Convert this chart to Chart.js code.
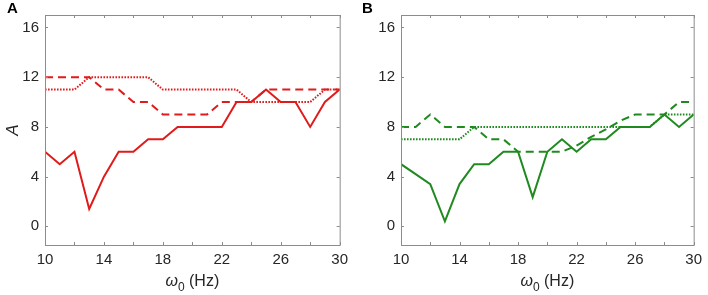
<!DOCTYPE html>
<html>
<head>
<meta charset="utf-8">
<script src="https://cdn.jsdelivr.net/npm/chart.js@4.4.1/dist/chart.umd.min.js"></script>
<style>
  html, body { margin: 0; padding: 0; background: #fff; }
  #wrap { position: relative; width: 708px; height: 295px; }
  canvas { position: absolute; top: 0; }
  #chartA { left: 0; }
  #chartB { left: 354px; }
</style>
</head>
<body>
<div id="wrap">
  <canvas id="chartA" width="354" height="295"></canvas>
  <canvas id="chartB" width="354" height="295"></canvas>
</div>
<script>
// omega_0 (Hz)
const omega = [10, 11, 12, 13, 14, 15, 16, 17, 18, 19, 20, 21, 22, 23, 24, 25, 26, 27, 28, 29, 30];

// Panel A (red)
const solidA  = [6, 5, 6, 1.4, 4, 6, 6, 7, 7, 8, 8, 8, 8, 10, 10, 11, 10, 10, 8, 10, 11];
const dashedA = [12, 12, 12, 12, 11, 11, 10, 10, 9, 9, 9, 9, 10, 10, 10, 11, 11, 11, 11, 11, 11];
const dottedA = [11, 11, 11, 12, 12, 12, 12, 12, 11, 11, 11, 11, 11, 11, 10, 10, 10, 10, 10, 11, 11];

// Panel B (green)
const solidB  = [5, 4.2, 3.4, 0.4, 3.4, 5, 5, 6, 6, 2.35, 6, 7, 6, 7, 7, 8, 8, 8, 9, 8, 9];
const dashedB = [8, 8, 9, 8, 8, 8, 7, 7, 6, 6, 6, 6, 6.5, 7.2, 7.8, 8.5, 9, 9, 9, 10, 10];
const dottedB = [7, 7, 7, 7, 7, 8, 8, 8, 8, 8, 8, 8, 8, 8, 8, 8, 8, 8, 9, 9, 9];

// axes
const xTickMarks = [10, 12, 14, 16, 18, 20, 22, 24, 26, 28, 30];
const xTickLabels = [10, 14, 18, 22, 26, 30];
const yTickLabels = [0, 4, 8, 12, 16];

const RED = '#e01b1b';
const GREEN = '#1f8a1f';
const FONT = '"Liberation Sans", Arial, sans-serif';

const pts = vals => omega.map((w, i) => ({ x: w, y: vals[i] }));

// cadre gris + graduations vers l'intérieur + titres
const matlabAxes = {
    id: 'matlabAxes',
    afterDraw(chart, args, opts) {
        const { ctx, chartArea: a, scales: { x, y } } = chart;
        ctx.save();
        ctx.strokeStyle = '#8c8c8c';
        ctx.lineWidth = 1;
        ctx.strokeRect(a.left + 0.5, a.top + 0.5, a.right - a.left, a.bottom - a.top);
        ctx.beginPath();
        xTickMarks.forEach(v => {
            const px = Math.round(x.getPixelForValue(v)) + 0.5;
            ctx.moveTo(px, a.bottom); ctx.lineTo(px, a.bottom - 3);
            ctx.moveTo(px, a.top); ctx.lineTo(px, a.top + 3);
        });
        yTickLabels.forEach(v => {
            const py = Math.round(y.getPixelForValue(v)) + 0.5;
            ctx.moveTo(a.left, py); ctx.lineTo(a.left + 3, py);
            ctx.moveTo(a.right, py); ctx.lineTo(a.right - 3, py);
        });
        ctx.stroke();

        // titre axe x : ω0 (Hz)
        ctx.fillStyle = '#262626';
        ctx.textBaseline = 'alphabetic';
        const cx = (a.left + a.right) / 2;
        const base = 286;
        ctx.font = 'italic 16px ' + FONT;
        const wOm = ctx.measureText('\u03c9').width;
        ctx.font = '12px ' + FONT;
        const wSub = ctx.measureText('0').width;
        ctx.font = '16px ' + FONT;
        const wHz = ctx.measureText(' (Hz)').width;
        let sx = cx - (wOm + wSub + wHz) / 2;
        ctx.textAlign = 'left';
        ctx.font = 'italic 16px ' + FONT;
        ctx.fillText('\u03c9', sx, base);
        sx += wOm;
        ctx.font = '12px ' + FONT;
        ctx.fillText('0', sx, base + 5);
        sx += wSub;
        ctx.font = '16px ' + FONT;
        ctx.fillText(' (Hz)', sx, base);

        // titre axe y
        if (opts.yTitle) {
            ctx.save();
            ctx.translate(13, (a.top + a.bottom) / 2);
            ctx.rotate(-Math.PI / 2);
            ctx.textAlign = 'center';
            ctx.textBaseline = 'middle';
            ctx.font = 'italic 17px ' + FONT;
            ctx.fillText(opts.yTitle, 0, 0);
            ctx.restore();
        }

        // lettre du panneau
        ctx.fillStyle = '#000';
        ctx.textAlign = 'left';
        ctx.textBaseline = 'top';
        ctx.font = 'bold 15px ' + FONT;
        ctx.fillText(opts.letter, opts.letterX, 1);
        ctx.restore();
    },
};

function makePanel(canvasId, color, solid, dashed, dotted, cfg) {
    const line = (label, vals, dash) => ({
        label,
        data: pts(vals),
        borderColor: color,
        backgroundColor: color,
        borderWidth: 2,
        borderDash: dash,
        pointRadius: 0,
        tension: 0,
        fill: false,
    });
    return new Chart(document.getElementById(canvasId), {
        type: 'line',
        data: {
            datasets: [
                line('dotted', dotted, [1.6, 1.4]),
                line('dashed', dashed, [8, 5]),
                line('solid', solid, []),
            ],
        },
        options: {
            responsive: false,
            devicePixelRatio: 1,
            animation: false,
            layout: { padding: { top: 13, right: cfg.right, left: 0, bottom: 0 } },
            plugins: {
                legend: { display: false },
                tooltip: { enabled: false },
                matlabAxes: cfg,
            },
            scales: {
                x: {
                    type: 'linear',
                    min: 10,
                    max: 30,
                    grid: { display: false, drawTicks: false, tickLength: 0 },
                    border: { display: false },
                    afterBuildTicks: s => { s.ticks = xTickMarks.map(v => ({ value: v })); },
                    afterFit: s => { s.height = 50; },
                    ticks: {
                        autoSkip: false,
                        maxRotation: 0,
                        padding: 6,
                        color: '#262626',
                        font: { family: FONT, size: 15 },
                        callback: v => (xTickLabels.includes(v) ? String(v) : ''),
                    },
                },
                y: {
                    min: -1.5,
                    max: 17,
                    grid: { display: false, drawTicks: false, tickLength: 0 },
                    border: { display: false },
                    afterBuildTicks: s => { s.ticks = yTickLabels.map(v => ({ value: v })); },
                    afterFit: s => { s.width = cfg.left; },
                    ticks: {
                        padding: 6,
                        color: '#262626',
                        font: { family: FONT, size: 15 },
                    },
                },
            },
        },
        plugins: [matlabAxes],
    });
}

makePanel('chartA', RED, solidA, dashedA, dottedA,
    { left: 45, right: 14, yTitle: 'A', letter: 'A', letterX: 7 });
makePanel('chartB', GREEN, solidB, dashedB, dottedB,
    { left: 47, right: 11, yTitle: null, letter: 'B', letterX: 8 });
</script>
</body>
</html>
